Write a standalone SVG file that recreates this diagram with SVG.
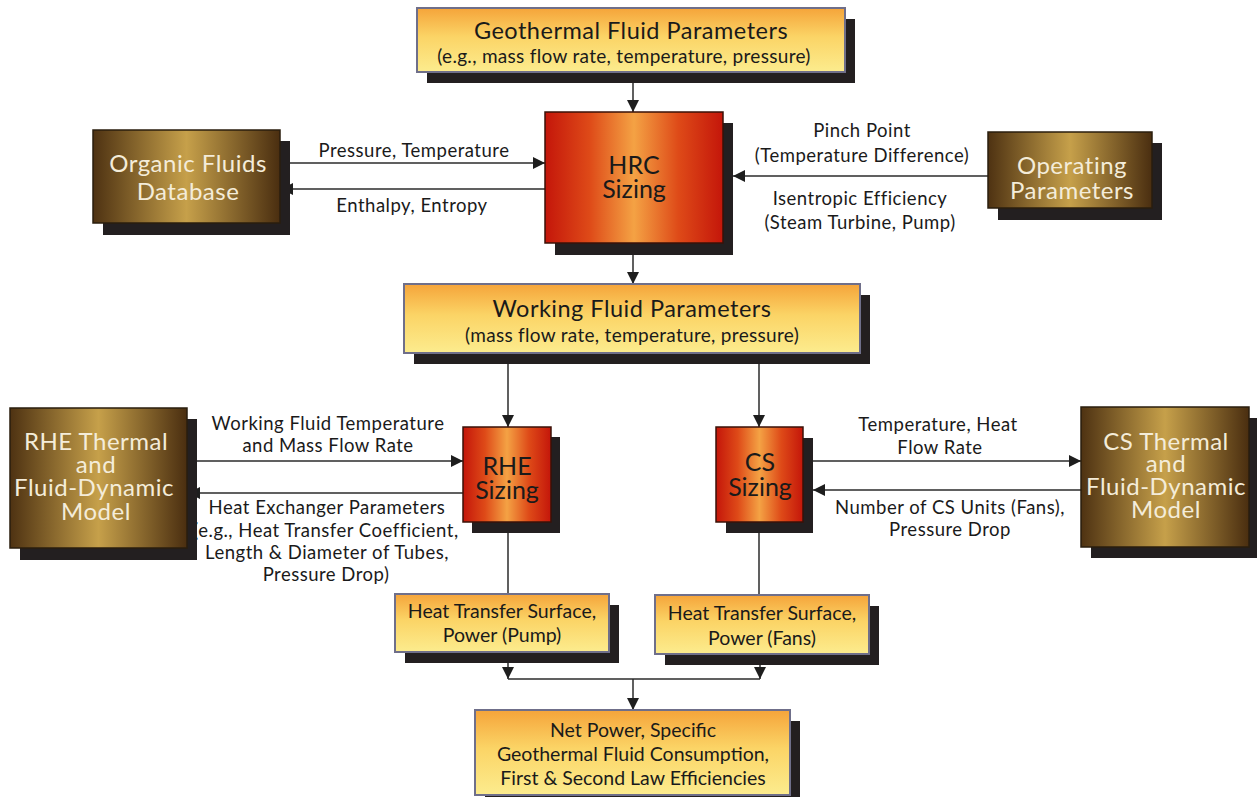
<svg xmlns="http://www.w3.org/2000/svg" width="1257" height="797" viewBox="0 0 1257 797">
  <defs>
    <linearGradient id="gYellow" x1="0" y1="0" x2="0" y2="1">
      <stop offset="0" stop-color="#f5a43a"/>
      <stop offset="0.45" stop-color="#fbd466"/>
      <stop offset="1" stop-color="#fcec8e"/>
    </linearGradient>
    <linearGradient id="gRed" x1="0" y1="0" x2="1" y2="0">
      <stop offset="0" stop-color="#c4160a"/>
      <stop offset="0.25" stop-color="#de4a18"/>
      <stop offset="0.5" stop-color="#f4a244"/>
      <stop offset="0.75" stop-color="#de4a18"/>
      <stop offset="1" stop-color="#c4160a"/>
    </linearGradient>
    <linearGradient id="gBrown" x1="0" y1="0" x2="1" y2="0">
      <stop offset="0" stop-color="#4e3212"/>
      <stop offset="0.5" stop-color="#c6a04a"/>
      <stop offset="1" stop-color="#4a2e10"/>
    </linearGradient>
    <marker id="arrow" viewBox="0 0 12 12" refX="12" refY="6" markerWidth="12" markerHeight="12" markerUnits="userSpaceOnUse" orient="auto">
      <path d="M0,0 L12,6 L0,12 z" fill="#1e1e1e"/>
    </marker>
    <style>
      .shadow { fill: #231f20; }
      .yellow { fill: url(#gYellow); stroke: #6f6f8a; stroke-width: 2; }
      .red { fill: url(#gRed); stroke: #3a1208; stroke-width: 1.5; }
      .brown { fill: url(#gBrown); stroke: #2a1e0e; stroke-width: 1.5; }
      text { font-family: Lato, "Open Sans", "DejaVu Sans", sans-serif; text-anchor: middle; }
      .dark { fill: #1a1a1a; }
      .light { fill: #f4ecd9; font-size: 24px; letter-spacing: 0.5px; }
      .title { font-size: 23.5px; letter-spacing: 0.5px; }
      .sub { font-size: 19px; letter-spacing: 0.3px; }
      .big { font-size: 25px; }
      .out { font-size: 19.5px; }
      .lbl { fill: #1a1a1a; font-size: 18.5px; letter-spacing: 0.5px; }
      .wire { fill: none; stroke: #2b2b2b; stroke-width: 1.5; }
      .arr { marker-end: url(#arrow); }
    </style>
  </defs>

  <!-- connectors and their labels -->
  <g id="connectors">
    <line class="wire arr" x1="633" y1="72" x2="633" y2="112"/>
    <line class="wire arr" x1="633" y1="243" x2="633" y2="284"/>
    <line class="wire arr" x1="280" y1="163" x2="545" y2="163"/>
    <line class="wire arr" x1="545" y1="189" x2="281" y2="189"/>
    <line class="wire arr" x1="988" y1="176" x2="733" y2="176"/>
    <line class="wire arr" x1="508" y1="353" x2="508" y2="427"/>
    <line class="wire arr" x1="759" y1="353" x2="759" y2="427"/>
    <line class="wire arr" x1="187" y1="461" x2="463" y2="461"/>
    <line class="wire arr" x1="463" y1="493" x2="188" y2="493"/>
    <line class="wire arr" x1="803" y1="461" x2="1081" y2="461"/>
    <line class="wire arr" x1="1081" y1="490" x2="813" y2="490"/>
    <line class="wire" x1="508" y1="522" x2="508" y2="594"/>
    <line class="wire" x1="759" y1="522" x2="759" y2="595"/>
    <line class="wire arr" x1="508" y1="652" x2="508" y2="679"/>
    <line class="wire arr" x1="760" y1="654" x2="760" y2="679"/>
    <line class="wire" x1="508" y1="679" x2="760" y2="679"/>
    <line class="wire arr" x1="633" y1="679" x2="633" y2="710"/>

    <text class="lbl" x="414" y="157">Pressure, Temperature</text>
    <text class="lbl" x="412" y="212">Enthalpy, Entropy</text>
    <text class="lbl" x="862" y="137">Pinch Point</text>
    <text class="lbl" x="862" y="162">(Temperature Difference)</text>
    <text class="lbl" x="860" y="205">Isentropic Efficiency</text>
    <text class="lbl" x="860" y="229">(Steam Turbine, Pump)</text>
    <text class="lbl" x="328" y="430">Working Fluid Temperature</text>
    <text class="lbl" x="328" y="452">and Mass Flow Rate</text>
    <text class="lbl" x="327" y="514">Heat Exchanger Parameters</text>
    <text class="lbl" x="326" y="537">(e.g., Heat Transfer Coefficient,</text>
    <text class="lbl" x="327" y="559">Length &amp; Diameter of Tubes,</text>
    <text class="lbl" x="326" y="581">Pressure Drop)</text>
    <text class="lbl" x="938" y="431">Temperature, Heat</text>
    <text class="lbl" x="940" y="454">Flow Rate</text>
    <text class="lbl" x="950" y="514">Number of CS Units (Fans),</text>
    <text class="lbl" x="950" y="536">Pressure Drop</text>
  </g>

  <g id="geothermal-fluid">
    <rect class="shadow" x="427" y="19" width="428" height="64"/>
    <rect class="yellow" x="417" y="8" width="428" height="64"/>
    <text class="dark title" x="631" y="39">Geothermal Fluid Parameters</text>
    <text class="dark sub" x="624" y="63">(e.g., mass flow rate, temperature, pressure)</text>
  </g>

  <g id="hrc-sizing">
    <rect class="shadow" x="555" y="123" width="178" height="132"/>
    <rect class="red" x="545" y="112" width="178" height="131"/>
    <text class="dark big" x="634" y="174">HRC</text>
    <text class="dark big" x="634" y="198">Sizing</text>
  </g>

  <g id="organic-fluids">
    <rect class="shadow" x="103" y="141" width="187" height="94"/>
    <rect class="brown" x="93" y="130" width="187" height="93"/>
    <text class="light" x="188" y="172">Organic Fluids</text>
    <text class="light" x="188" y="200">Database</text>
  </g>

  <g id="operating-parameters">
    <rect class="shadow" x="998" y="143" width="164" height="77"/>
    <rect class="brown" x="988" y="132" width="164" height="76"/>
    <text class="light" x="1072" y="174">Operating</text>
    <text class="light" x="1072" y="199">Parameters</text>
  </g>

  <g id="working-fluid">
    <rect class="shadow" x="414" y="295" width="456" height="69"/>
    <rect class="yellow" x="404" y="284" width="456" height="69"/>
    <text class="dark title" x="632" y="317">Working Fluid Parameters</text>
    <text class="dark sub" x="632" y="342">(mass flow rate, temperature, pressure)</text>
  </g>

  <g id="rhe-model">
    <rect class="shadow" x="20" y="419" width="177" height="141"/>
    <rect class="brown" x="10" y="408" width="177" height="140"/>
    <text class="light" x="96" y="450">RHE Thermal</text>
    <text class="light" x="96" y="473">and</text>
    <text class="light" x="94" y="496">Fluid-Dynamic</text>
    <text class="light" x="96" y="520">Model</text>
  </g>

  <g id="rhe-sizing">
    <rect class="shadow" x="472" y="437" width="88" height="96"/>
    <rect class="red" x="463" y="427" width="88" height="95"/>
    <text class="dark big" x="507" y="475">RHE</text>
    <text class="dark big" x="507" y="499">Sizing</text>
  </g>

  <g id="cs-sizing">
    <rect class="shadow" x="726" y="438" width="87" height="95"/>
    <rect class="red" x="716" y="427" width="87" height="95"/>
    <text class="dark big" x="760" y="471">CS</text>
    <text class="dark big" x="760" y="496">Sizing</text>
  </g>

  <g id="cs-model">
    <rect class="shadow" x="1091" y="418" width="170" height="140"/>
    <rect class="brown" x="1081" y="407" width="168" height="140"/>
    <text class="light" x="1166" y="450">CS Thermal</text>
    <text class="light" x="1166" y="472">and</text>
    <text class="light" x="1166" y="495">Fluid-Dynamic</text>
    <text class="light" x="1166" y="518">Model</text>
  </g>

  <g id="rhe-output">
    <rect class="shadow" x="405" y="605" width="214" height="58"/>
    <rect class="yellow" x="395" y="594" width="214" height="58"/>
    <text class="dark out" x="502" y="618">Heat Transfer Surface,</text>
    <text class="dark out" x="502" y="642">Power (Pump)</text>
  </g>

  <g id="cs-output">
    <rect class="shadow" x="665" y="606" width="214" height="59"/>
    <rect class="yellow" x="655" y="595" width="214" height="59"/>
    <text class="dark out" x="762" y="620">Heat Transfer Surface,</text>
    <text class="dark out" x="762" y="645">Power (Fans)</text>
  </g>

  <g id="net-power">
    <rect class="shadow" x="485" y="721" width="315" height="85"/>
    <rect class="yellow" x="475" y="710" width="315" height="85"/>
    <text class="dark out" x="633" y="737">Net Power, Specific</text>
    <text class="dark out" x="633" y="761">Geothermal Fluid Consumption,</text>
    <text class="dark out" x="633" y="785">First &amp; Second Law Efficiencies</text>
  </g>
</svg>
